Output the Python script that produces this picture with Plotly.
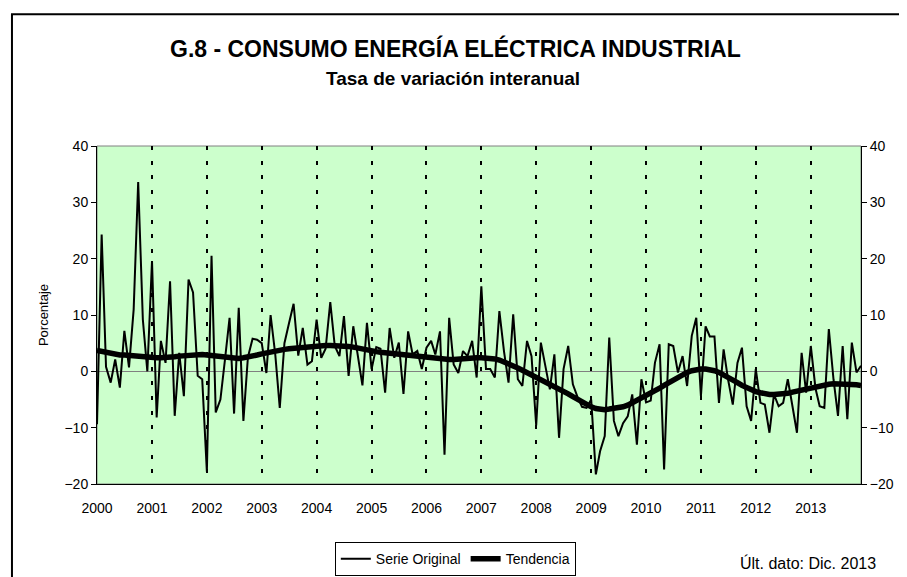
import pandas as pd
import plotly.graph_objects as go

# monthly year-on-year rate, Jan 2000 - Dec 2013
meses = pd.date_range("2000-01-01", periods=168, freq="MS")

serie_original = [
    -9.4, 24.3, 0.8, -2.0, 2.1, -2.9, 7.2, 0.7, 11.0, 33.6, 9.2, 0.0,        # 2000
    19.6, -8.2, 5.4, 1.5, 16.0, -7.9, 3.3, -4.4, 16.3, 14.0, -0.8, -1.4,     # 2001
    -17.8, 20.5, -7.3, -5.0, 2.0, 9.5, -7.5, 11.3, -8.8, 2.5, 5.8, 5.6,      # 2002
    5.0, -0.3, 10.0, 3.0, -6.5, 5.0, 8.5, 12.0, 2.8, 7.7, 1.2, 1.8,          # 2003
    9.2, 2.4, 4.0, 12.3, 4.5, 2.7, 9.8, -0.8, 8.0, 2.5, -2.5, 8.6,           # 2004
    0.4, 4.3, 4.0, -3.8, 7.7, 2.4, 5.1, -4.0, 7.1, 3.0, 3.6, 0.4,            # 2005
    4.2, 5.4, 3.0, 7.1, -14.8, 9.5, 1.2, -0.3, 3.6, 2.7, 5.4, -1.1,          # 2006
    15.1, 0.4, 0.4, -1.1, 10.7, 3.5, -2.0, 10.1, -1.4, -2.6, 5.4, 2.7,       # 2007
    -9.6, 5.1, 1.0, -3.2, 3.0, -11.8, 0.4, 4.5, -2.3, -4.5, -6.3, -6.5,      # 2008
    -5.0, -18.3, -14.2, -11.5, 6.0, -8.8, -11.5, -9.2, -8.0, -4.1, -13.0, -1.4,  # 2009
    -5.5, -5.2, 1.5, 4.8, -17.4, 4.8, 4.5, -0.2, 2.7, -2.6, 6.3, 9.5,        # 2010
    -4.4, 8.0, 6.2, 6.2, -5.6, 3.9, -1.5, -5.9, 1.5, 4.2, -6.2, -8.8,        # 2011
    0.4, -5.6, -5.9, -10.9, -4.1, -6.2, -5.6, -1.4, -6.2, -10.9, 3.3, -3.8,  # 2012
    4.5, -3.0, -6.2, -6.5, 7.5, -1.4, -7.9, 4.5, -8.5, 5.1, -0.2, 1.0,       # 2013
]

tendencia = [
    3.7, 3.5, 3.3, 3.1, 3.0, 2.9, 2.9, 2.8, 2.7, 2.6, 2.5, 2.5,
    2.5, 2.4, 2.4, 2.4, 2.5, 2.6, 2.7, 2.8, 2.9, 3.0, 3.0, 3.0,
    2.9, 2.8, 2.6, 2.5, 2.4, 2.3, 2.3, 2.3, 2.4, 2.5, 2.7, 2.9,
    3.1, 3.3, 3.4, 3.6, 3.7, 3.9, 4.0, 4.1, 4.2, 4.3, 4.4, 4.4,
    4.5, 4.5, 4.6, 4.6, 4.6, 4.6, 4.5, 4.4, 4.3, 4.1, 4.0, 3.8,
    3.7, 3.5, 3.4, 3.3, 3.2, 3.1, 3.0, 2.9, 2.8, 2.7, 2.6, 2.5,
    2.4, 2.3, 2.2, 2.1, 2.1, 2.1, 2.1, 2.2, 2.2, 2.3, 2.4, 2.4,
    2.4, 2.4, 2.3, 2.2, 2.0, 1.7, 1.4, 1.0, 0.6, 0.2, -0.2, -0.6,
    -1.0, -1.4, -1.8, -2.2, -2.6, -3.0, -3.5, -4.0, -4.5, -5.0, -5.5, -5.9,
    -6.3, -6.6, -6.8, -6.8, -6.7, -6.6, -6.5, -6.3, -6.0, -5.6, -5.2, -4.8,
    -4.4, -4.0, -3.5, -3.0, -2.5, -2.0, -1.5, -1.0, -0.6, -0.2, 0.1, 0.3,
    0.4, 0.4, 0.3, 0.1, -0.2, -0.6, -1.0, -1.5, -2.0, -2.5, -2.9, -3.3,
    -3.6, -3.8, -4.0, -4.1, -4.1, -4.1, -4.0, -3.9, -3.7, -3.5, -3.3, -3.1,
    -2.9, -2.7, -2.5, -2.4, -2.3, -2.2, -2.2, -2.2, -2.2, -2.3, -2.4, -2.5,
]

FONT = "Liberation Sans, Arial, sans-serif"

fig = go.Figure()
fig.add_trace(go.Scatter(x=meses, y=serie_original, mode="lines", name="Serie Original",
                         line=dict(color="black", width=2)))
fig.add_trace(go.Scatter(x=meses, y=tendencia, mode="lines", name="Tendencia",
                         line=dict(color="black", width=5.5)))
# same data on the right axis so it gets drawn
fig.add_trace(go.Scatter(x=meses, y=tendencia, yaxis="y2", mode="lines", showlegend=False,
                         hoverinfo="skip", line=dict(color="rgba(0,0,0,0)", width=0)))

fig.update_layout(
    width=907, height=577,
    # page body adds 8px, so plot area lands at 97..861 x 146..484 on screen
    margin=dict(l=89, r=54, t=138, b=101, autoexpand=False),
    paper_bgcolor="white", plot_bgcolor="#CCFFCC",
    font=dict(family=FONT, size=14, color="black"),
    showlegend=True,
    legend=dict(orientation="h", x=0.469, y=-0.172, xanchor="center", yanchor="top",
                bordercolor="black", borderwidth=1, font=dict(size=14),
                itemwidth=30, tracegroupgap=0),
    xaxis=dict(
        range=[meses[0], meses[-1]], tickformat="%Y", dtick="M12", tick0="2000-01-01",
        showgrid=True, gridcolor="black", gridwidth=2, griddash="4px,10.7px",
        showline=True, linecolor="black", linewidth=1, ticks="",
        ticklabelstandoff=11, tickfont=dict(size=14)),
    yaxis=dict(
        range=[-20, 40], dtick=10, showgrid=False,
        zeroline=True, zerolinecolor="#808080", zerolinewidth=1,
        showline=True, linecolor="black", linewidth=1,
        ticks="outside", ticklen=5, tickcolor="black", tickfont=dict(size=14),
        title=dict(text="Porcentaje", font=dict(size=13), standoff=12)),
    yaxis2=dict(
        range=[-20, 40], dtick=10, overlaying="y", side="right", showgrid=False,
        zeroline=False, showline=True, linecolor="black", linewidth=1,
        ticks="outside", ticklen=5, tickcolor="black", tickfont=dict(size=14)),
    shapes=[
        dict(type="rect", xref="paper", yref="paper", x0=0, x1=1, y0=0, y1=1,
             line=dict(color="#808080", width=1), layer="below"),
        dict(type="rect", xref="paper", yref="paper", x0=-0.1113, x1=1.0576,
             y0=-0.35, y1=1.39, line=dict(color="black", width=2)),
    ],
    annotations=[
        dict(text="<b>G.8 - CONSUMO ENERGÍA ELÉCTRICA INDUSTRIAL</b>", xref="paper", yref="paper",
             x=0.469, y=1.287, xanchor="center", yanchor="middle", showarrow=False,
             font=dict(size=23)),
        dict(text="<b>Tasa de variación interanual</b>", xref="paper", yref="paper",
             x=0.466, y=1.201, xanchor="center", yanchor="middle", showarrow=False,
             font=dict(size=19)),
        dict(text="Últ. dato: Dic. 2013", xref="paper", yref="paper",
             x=0.93, y=-0.234, xanchor="center", yanchor="middle", showarrow=False,
             font=dict(size=16)),
    ],
)

fig.write_html("out.html")
